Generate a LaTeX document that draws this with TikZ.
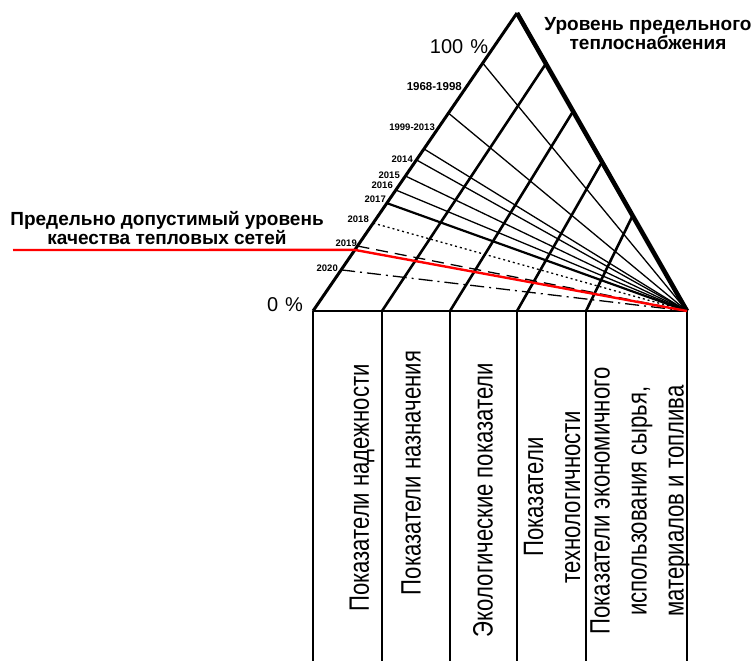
\documentclass[tikz,border=0pt]{standalone}
\usepackage{fontspec}
\setmainfont{Liberation Sans}
\newfontfamily\narrowsans[FakeStretch=0.79]{Liberation Sans}
\usetikzlibrary{calc}

\begin{document}
\begin{tikzpicture}[x=1pt,y=-1pt,line join=miter,
  edge/.style={line width=3pt},
  rim/.style={line width=4.6pt},
  band/.style={line width=2.6pt},
  ray/.style={line width=1.3pt},
  col/.style={line width=1.5pt},
  limit/.style={draw=red,line width=2.4pt},
  year/.style={font=\bfseries\fontsize{9.5}{11}\selectfont,anchor=east,inner sep=0pt},
  pct/.style={font=\fontsize{20}{22}\selectfont,inner sep=0pt},
  head/.style={font=\bfseries\fontsize{19}{19}\selectfont,align=center,inner sep=0pt},
  coltext/.style={rotate=90,align=center,inner sep=0pt,font=\narrowsans\fontsize{28}{37}\selectfont}]

\useasboundingbox (0,0) rectangle (755,661);

% Triangle corners and the feet of the columns.
\coordinate (top) at (517,13);
\coordinate (lb) at (313,311);
\coordinate (rb) at (687,311);
\foreach \i/\x in {1/382,2/450,3/517,4/586}
  \coordinate (f\i) at (\x,311);

% Rays from the left edge to the right foot.
\foreach \t/\nm in {0.832/p100,0.664/r1,0.544/r2,0.507/r3,0.453/r4,0.406/r5}
  \draw[ray] ($(lb)!\t!(top)$) coordinate (\nm) -- (rb);
\draw[line width=2.2pt] ($(lb)!0.362!(top)$) coordinate (r6) -- (rb);
\draw[ray,dash pattern=on 2pt off 3pt] ($(lb)!0.295!(top)$) coordinate (r7) -- (rb);
\draw[ray,dash pattern=on 12pt off 7pt] ($(lb)!0.218!(top)$) coordinate (r8) -- (rb);
\draw[ray,dash pattern=on 14pt off 5pt on 2pt off 5pt] ($(lb)!0.138!(top)$) coordinate (r9) -- (rb);

% Bands parallel to the left edge.
\foreach \i/\f in {1/0.17,2/0.33,3/0.5,4/0.68}
  \draw[band] (f\i) -- ($(top)!\f!(rb)$);

% Outline of the triangle.
\draw[edge] (lb) -- (top);
\draw[rim] (top) -- (rb);

% Columns.
\draw[col] (lb) -- (rb);
\draw[line width=2.4pt] (lb) -- (313,661);
\foreach \i in {1,...,4}
  \draw[col] (f\i) -- ++(0,350);
\draw[col] (rb) -- (687,661);

% Admissible level.
\coordinate (lim) at ($(lb)!0.205!(top)$);
\draw[limit] (13,250) -- (lim) -- (rb);

% Labels.
\node[pct] (hundred) at (459,47) {100\hspace{7pt}\%};
\node[pct] (zero) at (285,305) {0\hspace{7pt}\%};
\node[year,font=\bfseries\fontsize{11.5}{13}\selectfont] (y1968) at (462,87) {1968-1998};
\foreach \txt/\xx/\yy in {1999-2013/435/127,2014/413/159,2015/400/175,2016/393/185,
    2017/386/199,2018/369/219,2019/357/243,2020/338/268}
  \node[year] (y\txt) at (\xx,\yy) {\txt};

\node[head] (level) at (648,34) {Уровень предельного\\теплоснабжения};
\node[head] (limtext) at (167,228) {Предельно допустимый уровень\\качества тепловых сетей};

\node[coltext] (reliab) at (362,488) {Показатели надежности};
\node[coltext] (purpose) at (411,473) {Показатели назначения};
\node[coltext] (ecol) at (483,500) {Экологические показатели};
\node[coltext] (techn) at (552,497) {Показатели\\технологичности};
\node[coltext] (econ) at (640,501) {Показатели экономичного\\использования сырья,\\материалов и топлива};
\end{tikzpicture}
\end{document}
